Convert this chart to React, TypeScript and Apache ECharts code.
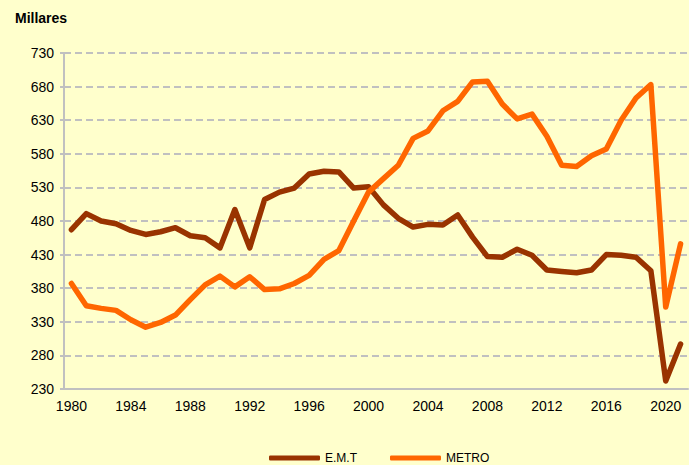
import React, { useEffect, useRef } from "react";
import * as echarts from "echarts";

const years: string[] = [];
for (let y = 1980; y <= 2021; y++) years.push(String(y));

const emt = [467, 491, 480, 476, 466, 460, 464, 470, 458, 455, 440, 497, 440, 512, 523, 529, 550, 554, 553, 529, 531, 504, 484, 471, 475, 474, 489, 456, 427, 426, 438, 429, 407, 405, 403, 407, 430, 429, 426, 406, 242, 297];
const metro = [387, 354, 350, 347, 333, 322, 329, 340, 363, 385, 398, 382, 397, 378, 379, 387, 399, 423, 436, 480, 523, 543, 563, 603, 614, 644, 658, 687, 688, 654, 632, 639, 606, 563, 561, 577, 587, 630, 663, 683, 352, 446];

const FONT = "'Liberation Sans', Arial, sans-serif";

export default function App() {
  const ref = useRef<HTMLDivElement>(null);
  useEffect(() => {
    document.body.style.margin = "0";
    const chart = echarts.init(ref.current!, null, { renderer: "svg" });
    chart.setOption({
      animation: false,
      backgroundColor: "#FFFFCC",
      textStyle: { fontFamily: FONT },
      title: {
        text: "Millares",
        left: 10,
        top: 6,
        textStyle: { fontSize: 14, fontWeight: "bold", color: "#000", fontFamily: FONT },
      },
      legend: {
        left: 264,
        top: 447,
        itemWidth: 51,
        itemHeight: 5,
        itemGap: 33,
        icon: "roundRect",
        textStyle: { fontSize: 12, color: "#000", fontFamily: FONT },
        data: ["E.M.T", "METRO"],
      },
      grid: { left: 64, right: 1, top: 53, bottom: 76 },
      xAxis: {
        type: "category",
        data: years,
        boundaryGap: true,
        axisLine: { lineStyle: { color: "#c0c0c0", width: 2 } },
        axisTick: { interval: 1, length: 5, lineStyle: { color: "#c0c0c0", width: 2 } },
        axisLabel: { interval: 3, fontSize: 14, color: "#000", margin: 10, fontFamily: FONT },
        splitLine: { show: false },
      },
      yAxis: {
        type: "value",
        min: 230,
        max: 730,
        interval: 50,
        axisLine: { show: true, lineStyle: { color: "#c0c0c0", width: 2 } },
        axisTick: { show: true, length: 4, lineStyle: { color: "#c0c0c0", width: 2 } },
        axisLabel: { fontSize: 14, color: "#000", margin: 10, fontFamily: FONT },
        splitLine: { lineStyle: { color: "#c0c0c0", width: 2, type: [7, 4] } },
      },
      series: [
        {
          name: "E.M.T",
          type: "line",
          data: emt,
          symbol: "none",
          color: "#993300",
          lineStyle: { width: 5.5, color: "#993300", cap: "round", join: "round" },
        },
        {
          name: "METRO",
          type: "line",
          data: metro,
          symbol: "none",
          color: "#FF6600",
          lineStyle: { width: 5.5, color: "#FF6600", cap: "round", join: "round" },
        },
      ],
    });
    return () => chart.dispose();
  }, []);
  return <div ref={ref} style={{ width: 689, height: 465, background: "#FFFFCC" }} />;
}
